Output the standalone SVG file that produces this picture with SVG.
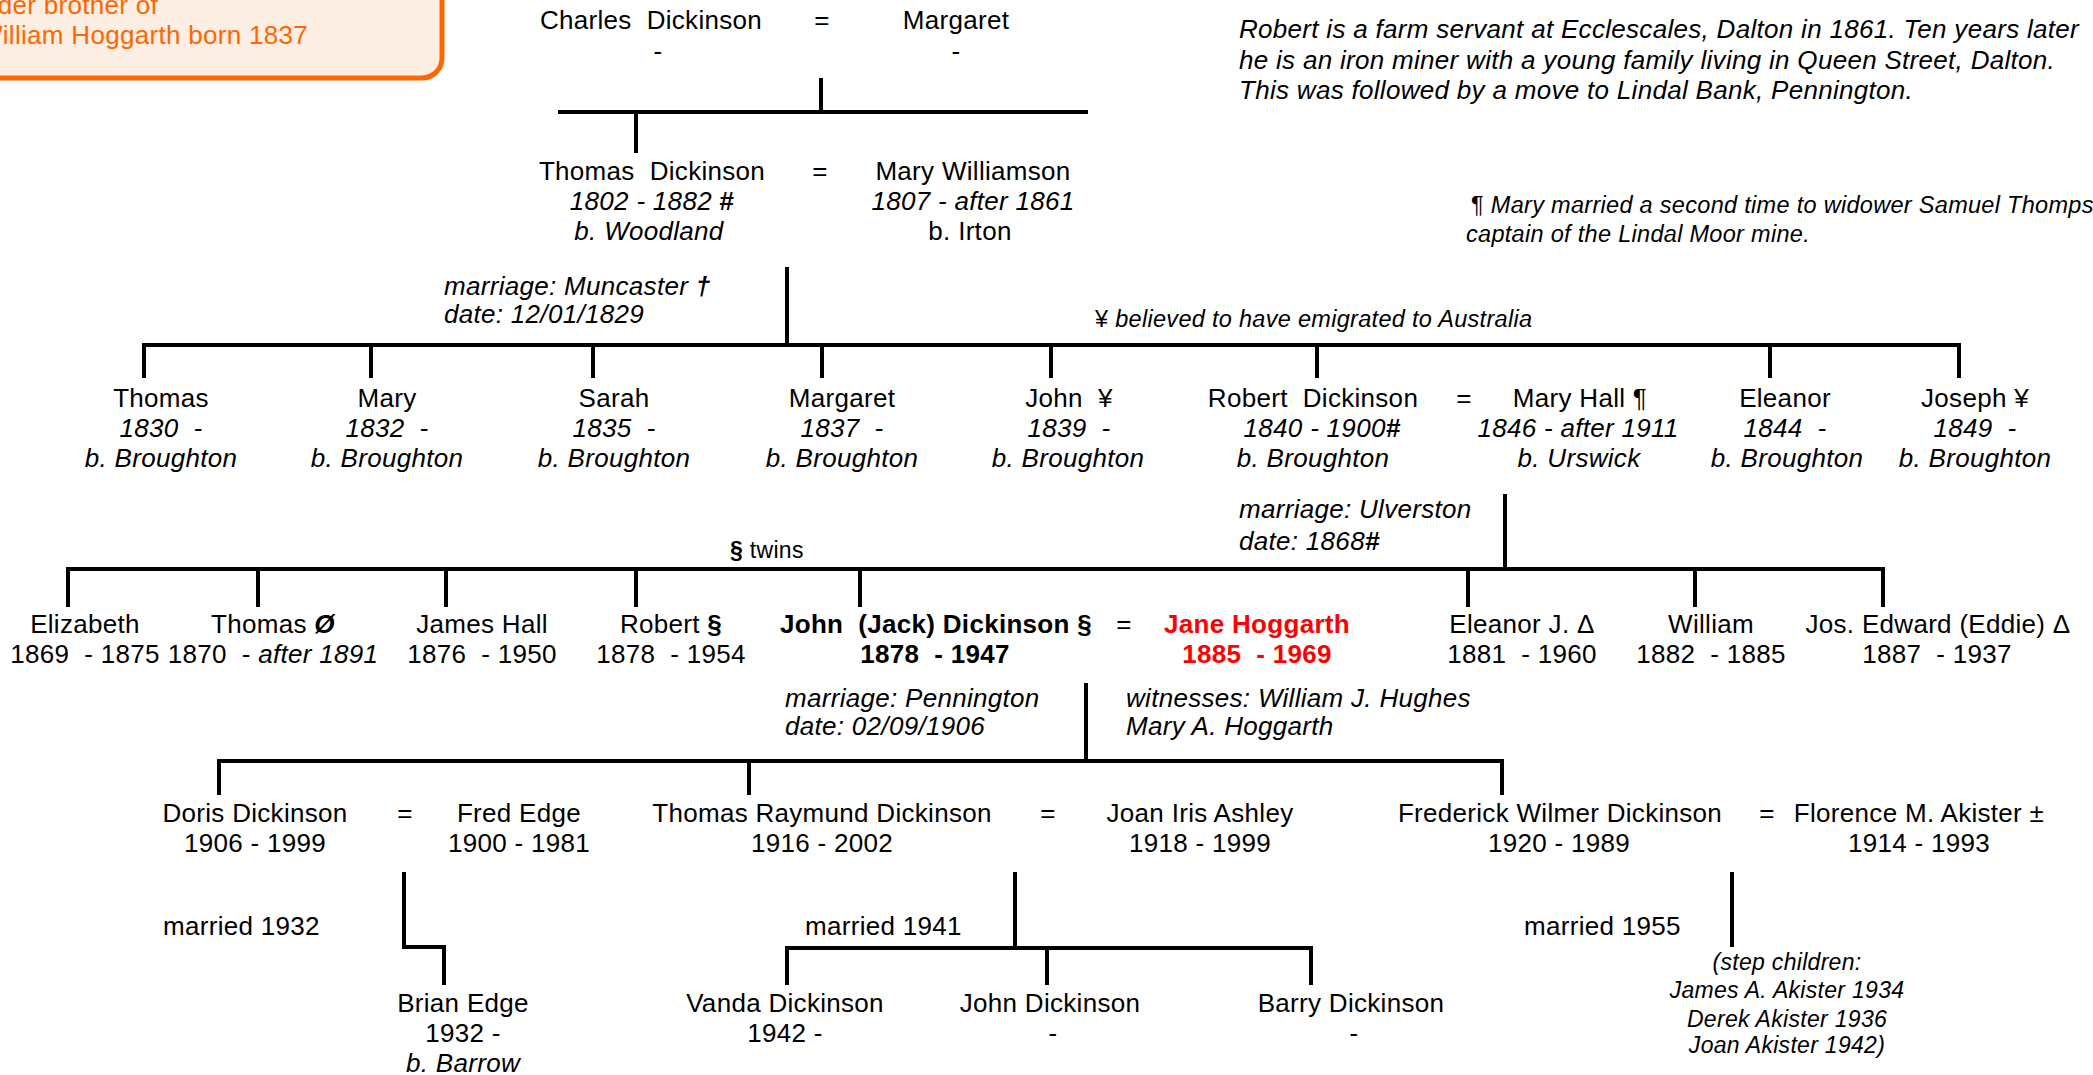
<svg xmlns="http://www.w3.org/2000/svg" width="2093" height="1075" viewBox="0 0 2093 1075">
<style>
text{font-family:"Liberation Sans",Arial,sans-serif;font-size:26px;letter-spacing:0.3px;white-space:pre;fill:#000}
.m{text-anchor:middle}
.e{text-anchor:end}
.i{font-style:italic}
.b{font-weight:bold}
.s{font-size:23px}
.s2{font-size:23.5px}
.or{fill:#FF6600}
.red{fill:#FF0000}
.ln{fill:none;stroke:#000;stroke-width:4}
</style>
<rect width="2093" height="1075" fill="#fff"/>
<g id="note-box">
<rect x="-40" y="-40" width="482" height="118" rx="20" ry="20" fill="#FDEEE4" stroke="#FF6600" stroke-width="5"/>
<text class="or e" x="158" y="14">der brother of</text>
<text class="or e" x="308" y="44">William Hoggarth born 1837</text>
</g>
<g id="connectors">
<path class="ln" d="M558,112 H1088 M821,78 V112 M636,112 V153"/>
<path class="ln" d="M787,267 V345 M144,378 V345 H1959 V378 M371,345 V378 M593,345 V378 M822,345 V378 M1051,345 V378 M1317,345 V378 M1770,345 V378"/>
<path class="ln" d="M1505,494 V569 M68,607 V569 H1883 V607 M258,569 V607 M446,569 V607 M636,569 V607 M860,569 V607 M1468,569 V607 M1695,569 V607"/>
<path class="ln" d="M1086,683 V761 M219,795 V761 H1502 V795 M749,761 V795"/>
<path class="ln" d="M404,872 V947 H444 V985 M1015,872 V948 M787,985 V948 H1311 V985 M1047,948 V985 M1732,872 V947"/>
</g>
<g id="charles-dickinson"><text class="m" x="651" y="29">Charles  Dickinson</text><text class="m" x="658" y="60">-</text></g>
<g id="eq-0"><text class="m" x="822" y="29">=</text></g>
<g id="margaret-sr"><text class="m" x="956" y="29">Margaret</text><text class="m" x="956" y="60">-</text></g>
<g id="thomas-dickinson"><text class="m" x="652" y="180">Thomas  Dickinson</text><text class="m i" x="652" y="210">1802 - 1882 <tspan class="b" font-style="normal">#</tspan></text><text class="m i" x="649" y="240">b. Woodland</text></g>
<g id="eq-1"><text class="m" x="820" y="180">=</text></g>
<g id="mary-williamson"><text class="m" x="973" y="180">Mary Williamson</text><text class="m i" x="973" y="210">1807 - after 1861</text><text class="m" x="970" y="240">b. Irton</text></g>
<g id="note-muncaster"><text class="i" x="444" y="295">marriage: Muncaster <tspan class="b">†</tspan></text><text class="i" x="444" y="323">date: 12/01/1829</text></g>
<g id="note-robert"><text class="i" x="1239" y="38">Robert is a farm servant at Ecclescales, Dalton in 1861. Ten years later</text><text class="i" x="1239" y="69">he is an iron miner with a young family living in Queen Street, Dalton.</text><text class="i" x="1239" y="99">This was followed by a move to Lindal Bank, Pennington.</text></g>
<g id="note-mary-hall"><text class="s2" x="1471" y="213">¶ <tspan class="i">Mary married a second time to widower Samuel Thomps</tspan></text><text class="s2 i" x="1466" y="242">captain of the Lindal Moor mine.</text></g>
<g id="note-australia"><text class="s2" x="1095" y="327">¥ <tspan class="i">believed to have emigrated to Australia</tspan></text></g>
<g id="thomas-1830"><text class="m" x="161" y="407">Thomas</text><text class="m i" x="161" y="437">1830  -</text><text class="m i" x="161" y="467">b. Broughton</text></g>
<g id="mary-1832"><text class="m" x="387" y="407">Mary</text><text class="m i" x="387" y="437">1832  -</text><text class="m i" x="387" y="467">b. Broughton</text></g>
<g id="sarah-1835"><text class="m" x="614" y="407">Sarah</text><text class="m i" x="614" y="437">1835  -</text><text class="m i" x="614" y="467">b. Broughton</text></g>
<g id="margaret-1837"><text class="m" x="842" y="407">Margaret</text><text class="m i" x="842" y="437">1837  -</text><text class="m i" x="842" y="467">b. Broughton</text></g>
<g id="john-1839"><text class="m" x="1069" y="407">John  ¥</text><text class="m i" x="1069" y="437">1839  -</text><text class="m i" x="1068" y="467">b. Broughton</text></g>
<g id="robert-dickinson"><text class="m" x="1313" y="407">Robert  Dickinson</text><text class="m i" x="1322" y="437">1840 - 1900<tspan class="b">#</tspan></text><text class="m i" x="1313" y="467">b. Broughton</text></g>
<g id="eq-2"><text class="m" x="1464" y="407">=</text></g>
<g id="mary-hall"><text class="m" x="1580" y="407">Mary Hall ¶</text><text class="m i" x="1578" y="437">1846 - after 1911</text><text class="m i" x="1579" y="467">b. Urswick</text></g>
<g id="eleanor-1844"><text class="m" x="1785" y="407">Eleanor</text><text class="m i" x="1785" y="437">1844  -</text><text class="m i" x="1787" y="467">b. Broughton</text></g>
<g id="joseph-1849"><text class="m" x="1975" y="407">Joseph ¥</text><text class="m i" x="1975" y="437">1849  -</text><text class="m i" x="1975" y="467">b. Broughton</text></g>
<g id="note-ulverston"><text class="i" x="1239" y="518">marriage: Ulverston</text><text class="i" x="1239" y="550">date: 1868<tspan class="b">#</tspan></text></g>
<g id="note-twins"><text class="s" x="730" y="558"><tspan class="b">§</tspan> twins</text></g>
<g id="elizabeth"><text class="m" x="85" y="633">Elizabeth</text><text class="m" x="85" y="663">1869  - 1875</text></g>
<g id="thomas-1870"><text class="m" x="273" y="633">Thomas <tspan class="b i">Ø</tspan></text><text class="m" x="273" y="663">1870  - <tspan class="i">after 1891</tspan></text></g>
<g id="james-hall"><text class="m" x="482" y="633">James Hall</text><text class="m" x="482" y="663">1876  - 1950</text></g>
<g id="robert-1878"><text class="m" x="671" y="633">Robert <tspan class="b">§</tspan></text><text class="m" x="671" y="663">1878  - 1954</text></g>
<g id="john-jack"><text class="m b" x="936" y="633">John  (Jack) Dickinson §</text><text class="m b" x="935" y="663">1878  - 1947</text></g>
<g id="eq-3"><text class="m" x="1124" y="633">=</text></g>
<g id="jane-hoggarth"><text class="m b red" x="1257" y="633">Jane Hoggarth</text><text class="m b red" x="1257" y="663">1885  - 1969</text></g>
<g id="eleanor-j"><text class="m" x="1522" y="633">Eleanor J. Δ</text><text class="m" x="1522" y="663">1881  - 1960</text></g>
<g id="william"><text class="m" x="1711" y="633">William</text><text class="m" x="1711" y="663">1882  - 1885</text></g>
<g id="jos-edward"><text class="m" x="1938" y="633">Jos. Edward (Eddie) Δ</text><text class="m" x="1937" y="663">1887  - 1937</text></g>
<g id="note-pennington"><text class="i" x="785" y="707">marriage: Pennington</text><text class="i" x="785" y="735">date: 02/09/1906</text></g>
<g id="note-witnesses"><text class="i" x="1126" y="707">witnesses: William J. Hughes</text><text class="i" x="1126" y="735">Mary A. Hoggarth</text></g>
<g id="doris"><text class="m" x="255" y="822">Doris Dickinson</text><text class="m" x="255" y="852">1906 - 1999</text></g>
<g id="eq-4a"><text class="m" x="405" y="822">=</text></g>
<g id="fred-edge"><text class="m" x="519" y="822">Fred Edge</text><text class="m" x="519" y="852">1900 - 1981</text></g>
<g id="thomas-raymund"><text class="m" x="822" y="822">Thomas Raymund Dickinson</text><text class="m" x="822" y="852">1916 - 2002</text></g>
<g id="eq-4b"><text class="m" x="1048" y="822">=</text></g>
<g id="joan-ashley"><text class="m" x="1200" y="822">Joan Iris Ashley</text><text class="m" x="1200" y="852">1918 - 1999</text></g>
<g id="frederick"><text class="m" x="1560" y="822">Frederick Wilmer Dickinson</text><text class="m" x="1559" y="852">1920 - 1989</text></g>
<g id="eq-4c"><text class="m" x="1767" y="822">=</text></g>
<g id="florence"><text class="m" x="1919" y="822">Florence M. Akister ±</text><text class="m" x="1919" y="852">1914 - 1993</text></g>
<g id="married-1932"><text x="163" y="935">married 1932</text></g>
<g id="married-1941"><text x="805" y="935">married 1941</text></g>
<g id="married-1955"><text x="1524" y="935">married 1955</text></g>
<g id="brian-edge"><text class="m" x="463" y="1012">Brian Edge</text><text class="m" x="463" y="1042">1932 -</text><text class="m i" x="463" y="1072">b. Barrow</text></g>
<g id="vanda"><text class="m" x="785" y="1012">Vanda Dickinson</text><text class="m" x="785" y="1042">1942 -</text></g>
<g id="john-dickinson"><text class="m" x="1050" y="1012">John Dickinson</text><text class="m" x="1053" y="1042">-</text></g>
<g id="barry"><text class="m" x="1351" y="1012">Barry Dickinson</text><text class="m" x="1354" y="1042">-</text></g>
<g id="step-children"><text class="m i s" x="1787" y="970">(step children:</text><text class="m i s" x="1787" y="998">James A. Akister 1934</text><text class="m i s" x="1787" y="1027">Derek Akister 1936</text><text class="m i s" x="1787" y="1053">Joan Akister 1942)</text></g>
</svg>
